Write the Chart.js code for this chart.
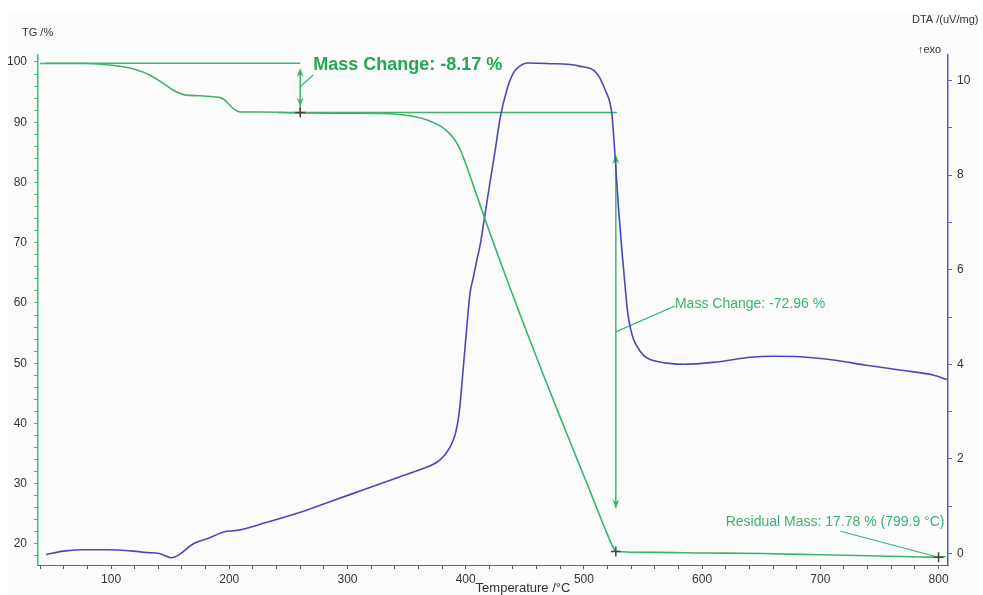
<!DOCTYPE html>
<html>
<head>
<meta charset="utf-8">
<title>TG / DTA</title>
<script src="https://cdn.jsdelivr.net/npm/chart.js@4.4.1/dist/chart.umd.min.js"></script>
<style>
    html, body { margin: 0; padding: 0; background: #fff; }
    #wrap { width: 983px; height: 595px; }
</style>
</head>
<body>
<div id="wrap"><canvas id="chart" width="983" height="595"></canvas></div>
<script>
// TG curve (mass %)
const tgTemp = [40, 60, 78, 99, 120, 133, 146, 152, 157, 163, 175, 188, 192, 196, 201, 205, 209, 226, 260, 300,
    330, 348, 362, 372, 380, 386, 391, 395, 398, 404, 410, 416, 422, 429, 436, 450, 465, 480, 495, 510,
    520, 526, 527.5, 560, 600, 650, 700, 750, 800, 806];
const tgMass = [99.75, 99.75, 99.75, 99.5, 98.8, 97.8, 96.2, 95.4, 94.9, 94.5, 94.4, 94.2, 94.1, 93.7, 92.7, 92.05, 91.7, 91.7, 91.55, 91.5,
    91.45, 91.2, 90.7, 90.0, 89.2, 88.2, 87.0, 85.6, 84.2, 80.9, 77.5, 74.1, 70.8, 67.0, 63.3, 56.0, 48.4, 41.0, 33.7, 26.4,
    21.5, 19.0, 18.75, 18.6, 18.5, 18.4, 18.2, 18.0, 17.8, 17.9];

// DTA curve (uV/mg)
const dtaTemp = [45, 60, 77, 96, 119, 130, 141, 151, 156, 170, 181, 198, 204, 232, 260, 288, 316, 344, 361, 378.3,
    386.8, 391, 393.6, 395.3, 397.4, 399.5, 401.6, 403.7, 406.3, 409.4, 412.2, 415.6, 420.6, 424.9, 429.1, 434.8, 440.4, 446, 452, 469,
    497, 511, 518, 523.6, 525, 526.4, 529.2, 532.1, 534.9, 537, 539.5, 542, 545, 550, 556, 564, 572, 584, 612, 641,
    660, 683, 711, 739, 767, 796, 807];
const dtaSignal = [-0.02, 0.05, 0.08, 0.08, 0.05, 0.02, 0.0, -0.09, -0.05, 0.21, 0.31, 0.47, 0.48, 0.66, 0.87, 1.12, 1.37, 1.62, 1.77, 1.98,
    2.25, 2.51, 2.82, 3.16, 3.77, 4.37, 4.98, 5.51, 5.82, 6.2, 6.52, 7.05, 7.85, 8.52, 9.2, 9.8, 10.16, 10.31, 10.37, 10.36,
    10.3, 10.15, 9.8, 9.31, 8.89, 8.39, 7.33, 6.42, 5.64, 5.1, 4.75, 4.53, 4.38, 4.2, 4.1, 4.05, 4.02, 4.0, 4.05, 4.15,
    4.17, 4.16, 4.09, 3.98, 3.88, 3.77, 3.68];

// evaluation marks on the TG curve
const crossTemp = [260, 527, 800];
const crossMass = [91.63, 18.75, 17.78];

// mass-change reference lines [t1, m1, t2, m2]
const refLines = [[45, 99.8, 260, 99.8], [241, 91.63, 528, 91.63]];
// double arrows: temperature, lower tip, upper tip, line start
const arrowTemp = [260, 527];
const arrowLow = [92.6, 25.9];
const arrowHigh = [99.0, 84.6];
const arrowBase = [91.63, 25.9];

// labels and their leader lines
const labelText = ['Mass Change: -8.17 %', 'Mass Change: -72.96 %', 'Residual Mass: 17.78 % (799.9 °C)'];
const labelAt = [[271, 99.5], [577, 59.8], [805, 23.55]];
const leaderFrom = [[260, 95.9], [527, 55.2], [717, 22.1]];
const leaderTo = [[271, 97.85], [577, 59.5], [800, 17.78]];

const GREEN = '#3cb46e';
const BLUE = '#4a4ab4';
const FONT = "'Liberation Sans', Arial, sans-serif";

Chart.defaults.font.family = FONT;

function drawArrowHead(ctx, x, y, dir) {
    // dir = -1 points up, 1 points down
    ctx.beginPath();
    ctx.moveTo(x, y);
    ctx.lineTo(x - 3.5, y - dir * 9);
    ctx.lineTo(x, y - dir * 6);
    ctx.lineTo(x + 3.5, y - dir * 9);
    ctx.closePath();
    ctx.fill();
}

const backdrop = {
    id: 'backdrop',
    beforeDraw(chart) {
        const ctx = chart.ctx;
        ctx.save();
        ctx.fillStyle = '#ffffff';
        ctx.fillRect(0, 0, chart.width, chart.height);
        ctx.fillStyle = '#fbfbfb';
        ctx.fillRect(8, 14, chart.width - 14, chart.height - 14);
        ctx.restore();
    }
};

const annotations = {
    id: 'annotations',
    beforeDatasetsDraw(chart) {
        const { ctx, scales: { x, y } } = chart;
        ctx.save();
        ctx.strokeStyle = GREEN;
        ctx.fillStyle = GREEN;
        ctx.lineWidth = 1.5;
        refLines.forEach(l => {
            ctx.beginPath();
            ctx.moveTo(x.getPixelForValue(l[0]), y.getPixelForValue(l[1]));
            ctx.lineTo(x.getPixelForValue(l[2]), y.getPixelForValue(l[3]));
            ctx.stroke();
        });
        arrowTemp.forEach((t, i) => {
            const px = x.getPixelForValue(t);
            ctx.beginPath();
            ctx.moveTo(px, y.getPixelForValue(arrowBase[i]));
            ctx.lineTo(px, y.getPixelForValue(arrowHigh[i]) + 2);
            ctx.stroke();
            drawArrowHead(ctx, px, y.getPixelForValue(arrowHigh[i]), -1);
            drawArrowHead(ctx, px, y.getPixelForValue(arrowLow[i]), 1);
        });
        ctx.lineWidth = 1.2;
        leaderFrom.forEach((p, i) => {
            ctx.beginPath();
            ctx.moveTo(x.getPixelForValue(p[0]), y.getPixelForValue(p[1]));
            ctx.lineTo(x.getPixelForValue(leaderTo[i][0]), y.getPixelForValue(leaderTo[i][1]));
            ctx.stroke();
        });
        ctx.restore();
    },
    afterDatasetsDraw(chart) {
        const { ctx, scales: { x, y } } = chart;
        ctx.save();
        ctx.textBaseline = 'middle';
        labelText.forEach((txt, i) => {
            ctx.fillStyle = i === 0 ? '#22a855' : GREEN;
            ctx.font = i === 0 ? 'bold 18px ' + FONT : '14px ' + FONT;
            ctx.textAlign = i === 2 ? 'right' : 'left';
            ctx.fillText(txt, x.getPixelForValue(labelAt[i][0]), y.getPixelForValue(labelAt[i][1]));
        });

        // axis titles
        ctx.fillStyle = '#333';
        ctx.font = '11px ' + FONT;
        ctx.textAlign = 'left';
        ctx.fillText('TG /%', 22, 33);
        ctx.fillText('DTA /(uV/mg)', 912, 20);
        ctx.fillText('\u2191exo', 918, 50);
        ctx.font = '13px ' + FONT;
        ctx.textAlign = 'center';
        ctx.textBaseline = 'alphabetic';
        ctx.fillText('Temperature /\u00b0C', 523, 592);
        ctx.restore();
    }
};

const ctx = document.getElementById('chart').getContext('2d');
new Chart(ctx, {
    type: 'line',
    data: {
        datasets: [{
            label: 'TG',
            data: tgTemp.map((t, i) => ({ x: t, y: tgMass[i] })),
            yAxisID: 'y',
            borderColor: GREEN,
            borderWidth: 1.6,
            pointRadius: 0,
            cubicInterpolationMode: 'monotone',
            fill: false,
            order: 2
        }, {
            label: 'DTA',
            data: dtaTemp.map((t, i) => ({ x: t, y: dtaSignal[i] })),
            yAxisID: 'y2',
            borderColor: BLUE,
            borderWidth: 1.6,
            pointRadius: 0,
            cubicInterpolationMode: 'monotone',
            fill: false,
            order: 3
        }, {
            type: 'scatter',
            label: 'marks',
            data: crossTemp.map((t, i) => ({ x: t, y: crossMass[i] })),
            yAxisID: 'y',
            pointStyle: 'cross',
            pointRadius: 5,
            borderColor: '#444',
            borderWidth: 1.5,
            order: 1
        }]
    },
    options: {
        responsive: false,
        animation: false,
        events: [],
        layout: { padding: { top: 55, left: 0, right: 0, bottom: 0 } },
        plugins: {
            legend: { display: false },
            tooltip: { enabled: false }
        },
        scales: {
            x: {
                type: 'linear',
                position: 'bottom',
                min: 38.2,
                max: 808,
                afterFit: s => { s.height = 30; },
                ticks: {
                    stepSize: 20,
                    includeBounds: false,
                    autoSkip: false,
                    maxRotation: 0,
                    padding: 3,
                    color: '#333',
                    font: { size: 12 },
                    callback: v => (v % 100 === 0 ? String(v) : '')
                },
                grid: { drawOnChartArea: false, tickLength: 4, tickColor: '#555' },
                border: { color: '#666', width: 1 }
            },
            y: {
                position: 'left',
                min: 16.5,
                max: 101.16,
                afterFit: s => { s.width = 38; },
                ticks: {
                    stepSize: 2,
                    includeBounds: false,
                    autoSkip: false,
                    padding: 7,
                    color: '#333',
                    font: { size: 12 },
                    callback: v => (v % 10 === 0 ? String(v) : '')
                },
                grid: { drawOnChartArea: false, tickLength: 4, tickColor: '#3cbf72' },
                border: { color: '#3cbf72', width: 1.5 }
            },
            y2: {
                position: 'right',
                min: -0.243,
                max: 10.54,
                afterFit: s => { s.width = 35; },
                ticks: {
                    stepSize: 1,
                    includeBounds: false,
                    autoSkip: false,
                    padding: 5,
                    color: '#333',
                    font: { size: 12 },
                    callback: v => (v % 2 === 0 ? String(v) : '')
                },
                grid: { drawOnChartArea: false, tickLength: 4, tickColor: '#5a5ab4' },
                border: { color: '#5a5ab4', width: 1.5 }
            }
        }
    },
    plugins: [backdrop, annotations]
});
</script>
</body>
</html>
